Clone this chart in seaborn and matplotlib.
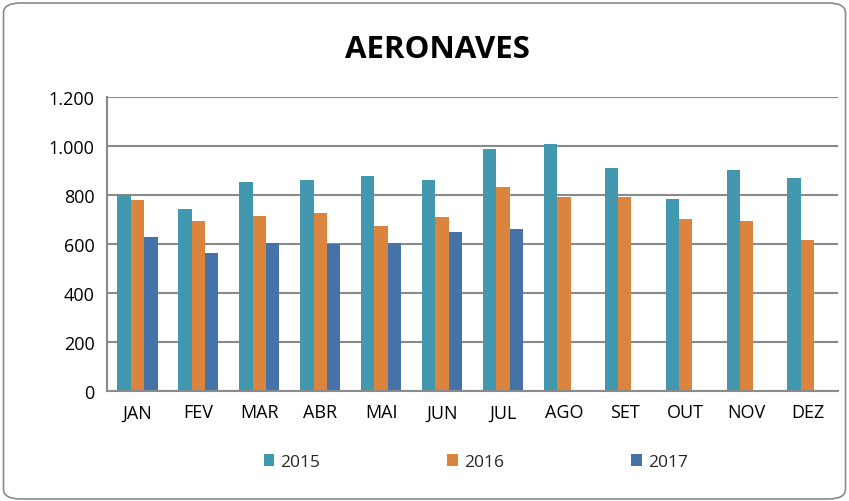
import matplotlib
matplotlib.use("Agg")
import matplotlib.pyplot as plt
import matplotlib.ticker as mticker
from matplotlib.patches import FancyBboxPatch, Patch
import seaborn as sns
import pandas as pd
import numpy as np

months = ["JAN", "FEV", "MAR", "ABR", "MAI", "JUN", "JUL", "AGO", "SET", "OUT", "NOV", "DEZ"]
v2015 = [800, 743, 853, 860, 879, 863, 987, 1009, 912, 784, 901, 868]
v2016 = [780, 695, 714, 728, 672, 712, 834, 791, 790, 700, 693, 618]
v2017 = [630, 565, 606, 602, 606, 648, 660, None, None, None, None, None]
years = ["2015", "2016", "2017"]
colors = ["#4198AF", "#DB843D", "#4572A7"]

rows = []
for y, vals in zip(years, [v2015, v2016, v2017]):
    for m, v in zip(months, vals):
        rows.append({"mes": m, "ano": y, "valor": np.nan if v is None else v})
df = pd.DataFrame(rows)

sns.set_style("white")
plt.rcParams["font.family"] = ["Open Sans", "DejaVu Sans"]

fig = plt.figure(figsize=(8.49, 5.02), dpi=100)
ax = fig.add_axes([107/849, 1-392/502, (838-107)/849, (392-98)/502])

sns.barplot(data=df, x="mes", y="valor", hue="ano", order=months, hue_order=years,
            palette=colors, width=0.66, saturation=1, ax=ax, legend=False,
            edgecolor="none", linewidth=0)

ax.set_ylim(0, 1200)
ax.set_xlim(-0.5, 11.5)
ax.set_yticks(range(0, 1201, 200))
ax.yaxis.set_major_formatter(mticker.FuncFormatter(lambda v, p: f"{int(v):,}".replace(",", ".")))
ax.grid(axis="y", color="#8a8a8a", linewidth=1.5)
ax.set_axisbelow(True)
ax.set_xlabel("")
ax.set_ylabel("")
for s in ["top", "right"]:
    ax.spines[s].set_visible(False)
for s in ["left", "bottom"]:
    ax.spines[s].set_color("#8a8a8a")
    ax.spines[s].set_linewidth(1.5)

ax.tick_params(axis="y", which="major", length=5, width=1.2, color="#8a8a8a",
               labelsize=13, labelcolor="black", pad=4)
ax.tick_params(axis="x", which="major", length=0, labelsize=13, labelcolor="black", pad=9)
ax.set_xticks(np.arange(-0.5, 12, 1), minor=True)
ax.tick_params(axis="x", which="minor", length=5, width=1.2, color="#8a8a8a")

fig.text(437/849, 1-50/502, "AERONAVES", ha="center", va="center",
         fontsize=22.5, fontweight="bold", color="black")

handles = [Patch(facecolor=c, edgecolor="none") for c in colors]
fs = 12.5
em = fs * 100 / 72
fig.legend(handles, years, loc="center left",
           bbox_to_anchor=((255 - 0.4 * em) / 849, 1-463/502), ncol=3,
           frameon=False, fontsize=fs, handlelength=0.62, handleheight=0.62,
           handletextpad=0.35, columnspacing=7.3, borderpad=0.4)

border = FancyBboxPatch((3.5/849, 2/502), 842/849, 496/502,
                        boxstyle="round,pad=0,rounding_size=0.02",
                        transform=fig.transFigure, facecolor="none",
                        edgecolor="#8a8a8a", linewidth=1.2)
fig.patches.append(border)

fig.savefig("out.png", dpi=100)
